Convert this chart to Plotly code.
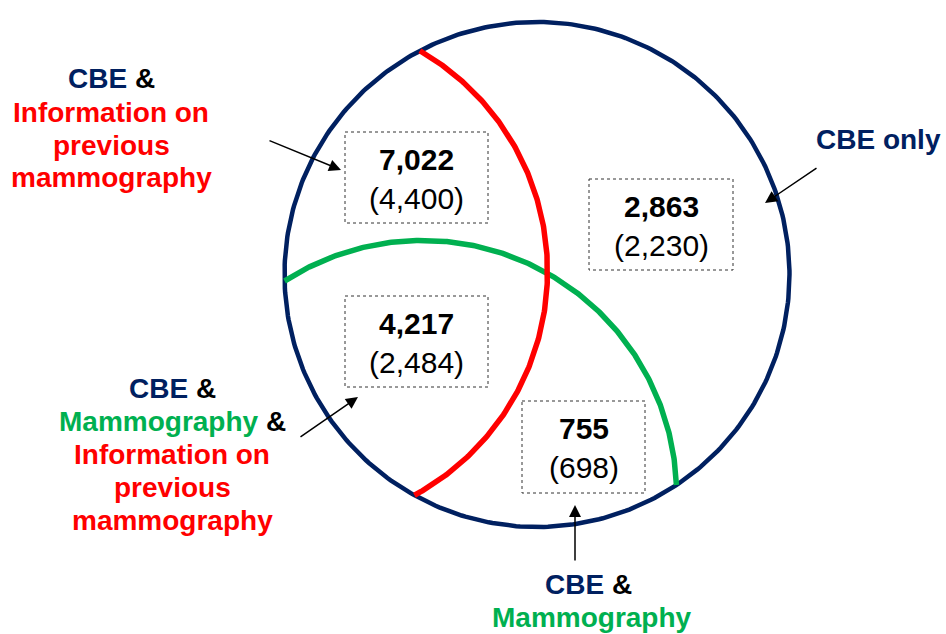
import numpy as np
import plotly.graph_objects as go

# ---- data ----
region_names = [
    "CBE & Information on previous mammography",
    "CBE only",
    "CBE & Mammography & Information on previous mammography",
    "CBE & Mammography",
]
counts_main = [7022, 2863, 4217, 755]
counts_paren = [4400, 2230, 2484, 698]

# ---- style / layout ----
W, H = 946, 634
NAVY = "#002060"
RED = "#FF0000"
GREEN = "#00B050"
BLACK = "#000000"
FONT = "Liberation Sans, Arial, sans-serif"

big_c = (537.0, 274.5, 252.5)
red_c = (292.8, 271.5, 254.7)
green_c = (422.4, 494.6, 254.2)

# boxes: x0, y0, x1, y1 (pixel coords, y down)
boxes = [(345, 132, 488, 223), (589, 179, 733, 270), (345, 296, 488, 387), (522, 401, 645, 493)]
num_offsets = (27, 66)

arrows = [(268, 140, 341, 170), (818, 167, 765, 203), (299, 438, 358, 397), (575, 562, 575, 505)]


def span(t, c):
    return f'<span style="color:{c}">{t}</span>'


label_lines = [
    (111, 78, span("CBE", NAVY) + span(" &", BLACK)),
    (111, 112, span("Information on", RED)),
    (111, 145, span("previous", RED)),
    (111, 177, span("mammography", RED)),
    (878, 139, span("CBE only", NAVY)),
    (172, 388, span("CBE", NAVY) + span(" &", BLACK)),
    (172, 421, span("Mammography", GREEN) + span(" &", BLACK)),
    (172, 454, span("Information on", RED)),
    (172, 487, span("previous", RED)),
    (172, 520, span("mammography", RED)),
    (588, 584, span("CBE", NAVY) + span(" &", BLACK)),
    (592, 617, span("Mammography", GREEN)),
]


def intersections(c0, c1):
    x0, y0, r0 = c0
    x1, y1, r1 = c1
    d = np.hypot(x1 - x0, y1 - y0)
    a = (r0**2 - r1**2 + d**2) / (2 * d)
    h = np.sqrt(max(r0**2 - a**2, 0))
    xm = x0 + a * (x1 - x0) / d
    ym = y0 + a * (y1 - y0) / d
    p1 = (xm + h * (y1 - y0) / d, ym - h * (x1 - x0) / d)
    p2 = (xm - h * (y1 - y0) / d, ym + h * (x1 - x0) / d)
    return p1, p2


def arc_inside(c, c0, n=300):
    cx, cy, r = c
    p1, p2 = intersections(c0, c)
    a1 = np.arctan2(p1[1] - cy, p1[0] - cx)
    a2 = np.arctan2(p2[1] - cy, p2[0] - cx)
    d = (a2 - a1) % (2 * np.pi)
    mid = a1 + d / 2
    mx, my = cx + r * np.cos(mid), cy + r * np.sin(mid)
    if np.hypot(mx - c0[0], my - c0[1]) < c0[2]:
        t = np.linspace(a1, a1 + d, n)
    else:
        t = np.linspace(a2, a2 + (2 * np.pi - d), n)
    return cx + r * np.cos(t), cy + r * np.sin(t)


fig = go.Figure()

tt = np.linspace(0, 2 * np.pi, 400)
fig.add_trace(go.Scatter(x=big_c[0] + big_c[2] * np.cos(tt), y=big_c[1] + big_c[2] * np.sin(tt),
                         mode="lines", line=dict(color=NAVY, width=4.5), hoverinfo="skip"))
gx, gy = arc_inside(green_c, big_c)
fig.add_trace(go.Scatter(x=gx, y=gy, mode="lines", line=dict(color=GREEN, width=5.5), hoverinfo="skip"))
rx, ry = arc_inside(red_c, big_c)
fig.add_trace(go.Scatter(x=rx, y=ry, mode="lines", line=dict(color=RED, width=5.5), hoverinfo="skip"))

shapes = []
for (x0, y0, x1, y1) in boxes:
    shapes.append(dict(type="rect", xref="x", yref="y", x0=x0, y0=y0, x1=x1, y1=y1,
                       line=dict(color="#333333", width=1, dash="dot"), fillcolor="rgba(0,0,0,0)"))

annotations = []
for (x0, y0, x1, y1), m, p in zip(boxes, counts_main, counts_paren):
    cx = (x0 + x1) / 2
    annotations.append(dict(x=cx, y=y0 + num_offsets[0], xref="x", yref="y", text=f"<b>{m:,}</b>",
                            showarrow=False, font=dict(family=FONT, size=30, color=BLACK),
                            xanchor="center", yanchor="middle"))
    annotations.append(dict(x=cx, y=y0 + num_offsets[1], xref="x", yref="y", text=f"({p:,})",
                            showarrow=False, font=dict(family=FONT, size=30, color=BLACK),
                            xanchor="center", yanchor="middle"))

for (x, y, t) in label_lines:
    annotations.append(dict(x=x, y=y, xref="x", yref="y", text=f"<b>{t}</b>", showarrow=False,
                            font=dict(family=FONT, size=28, color=BLACK),
                            xanchor="center", yanchor="middle"))

for (xt, yt, xh, yh) in arrows:
    annotations.append(dict(x=xh, y=yh, ax=xt, ay=yt, xref="x", yref="y", axref="x", ayref="y",
                            text="", showarrow=True, arrowhead=2, arrowsize=1.6, arrowwidth=1.5,
                            arrowcolor=BLACK))

fig.update_layout(
    width=W, height=H, margin=dict(l=0, r=0, t=0, b=0),
    paper_bgcolor="white", plot_bgcolor="white", showlegend=False,
    xaxis=dict(range=[0, W], visible=False, fixedrange=True),
    yaxis=dict(range=[H, 0], visible=False, fixedrange=True),
    shapes=shapes, annotations=annotations,
)

fig.write_html("out.html", config={"displayModeBar": False},
               post_script="document.body.style.margin='0';document.body.style.overflow='hidden';")
